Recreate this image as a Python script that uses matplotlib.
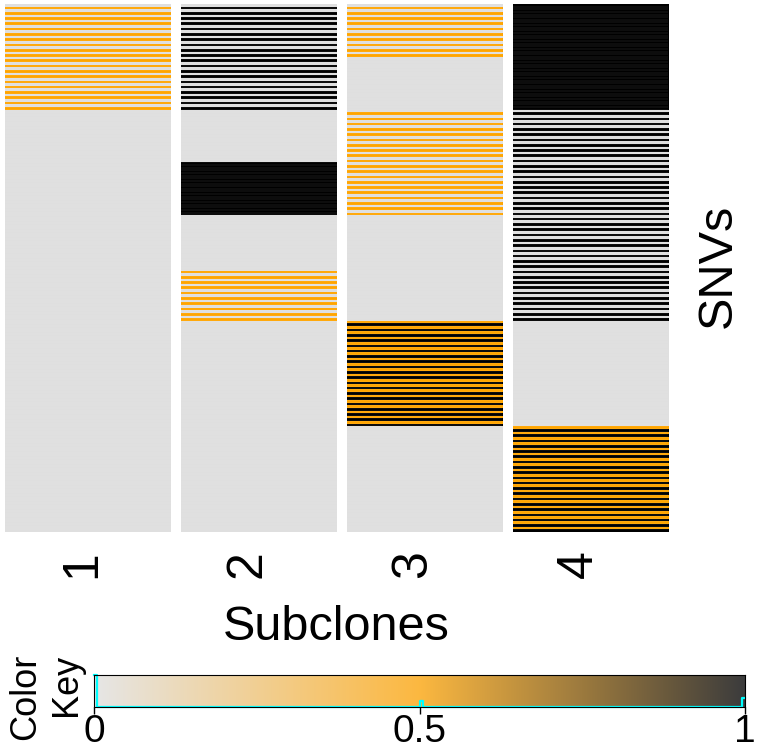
import numpy as np
import matplotlib
matplotlib.use('Agg')
import matplotlib.pyplot as plt
from matplotlib.colors import ListedColormap, LinearSegmentedColormap, BoundaryNorm

plt.rcParams['font.family'] = ['Liberation Sans', 'DejaVu Sans']

# ---------------- data ----------------
subclones = ['1', '2', '3', '4']
rows_per_block = 20
# (even-row value, odd-row value) for each block of 20 SNVs, top to bottom
clone1 = [(0, .5), (0, .5), (0, 0), (0, 0), (0, 0), (0, 0), (0, 0), (0, 0), (0, 0), (0, 0)]
clone2 = [(0, 1), (0, 1), (0, 0), (1, 1), (0, 0), (0, .5), (0, 0), (0, 0), (0, 0), (0, 0)]
clone3 = [(0, .5), (0, 0), (0, .5), (0, .5), (0, 0), (0, 0), (.5, 1), (.5, 1), (0, 0), (0, 0)]
clone4 = [(1, 1), (1, 1), (0, 1), (0, 1), (0, 1), (0, 1), (0, 0), (0, 0), (.5, 1), (.5, 1)]
key_ticks = [0, 0.5, 1]
key_ticklabels = ['0', '0.5', '1']

def expand(blocks):
    vals = []
    for a, b in blocks:
        for r in range(rows_per_block):
            vals.append(a if r % 2 == 0 else b)
    return vals

M = np.array([expand(c) for c in (clone1, clone2, clone3, clone4)]).T
nrow, ncol = M.shape

# ---------------- figure ----------------
W, H = 768, 749
fig = plt.figure(figsize=(W / 100, H / 100), dpi=100)

def fx(x):
    return x / W

def fy(y):
    return 1 - y / H

hm_left, hm_right, hm_top, hm_bot = 5, 668, 4, 532
ax = fig.add_axes([fx(hm_left), fy(hm_bot), fx(hm_right - hm_left), (hm_bot - hm_top) / H])
cmap = ListedColormap(['#DFDFDF', '#FFA500', '#000000'])
norm = BoundaryNorm([-0.25, 0.25, 0.75, 1.25], 3)
gap = 0.062
for i in range(ncol):
    x0 = i + (gap if i > 0 else 0)
    ax.imshow(M[:, i:i + 1], cmap=cmap, norm=norm, aspect='auto', interpolation='nearest',
              extent=(x0, i + 1, nrow, 0))
    # faint row boundaries
    ax.hlines(np.arange(1, nrow), x0, i + 1, color='white', alpha=0.22, lw=0.35)
ax.set_xlim(0, ncol)
ax.set_ylim(nrow, 0)
ax.axis('off')

# column labels
for i, lab in enumerate(subclones):
    xc = hm_left + (hm_right - hm_left) * (i + 0.5) / ncol - 6
    fig.text(fx(xc), fy(564), lab, rotation=90, ha='center', va='center', fontsize=36)

fig.text(fx(336), fy(628), 'Subclones', ha='center', va='center', fontsize=35)
fig.text(fx(718), fy(266), 'SNVs', rotation=90, ha='center', va='center', fontsize=35)

# ---------------- color key ----------------
k_left, k_right, k_top, k_bot = 94, 745, 675, 707
kax = fig.add_axes([fx(k_left), fy(k_bot), fx(k_right - k_left), (k_bot - k_top) / H])
key_cmap = LinearSegmentedColormap.from_list('key', ['#E6E6E6', '#FCB840', '#3C3C3C'])
kax.imshow(np.linspace(0, 1, 256)[None, :], cmap=key_cmap, aspect='auto',
           extent=(0, 1, 0, 1), interpolation='bilinear')
edges = np.linspace(0, 1, 201)
counts, _ = np.histogram(M.ravel(), bins=edges)
hy = counts / counts.max()
kax.step(edges, np.append(hy, hy[-1]), where='post', color='cyan', lw=1.6, clip_on=False)
kax.set_xlim(0, 1)
kax.set_ylim(0, 1)
kax.set_yticks([])
kax.set_xticks(key_ticks)
kax.set_xticklabels(key_ticklabels)
kax.tick_params(axis='x', direction='out', length=5, width=1, labelsize=28, pad=0)
for s in kax.spines.values():
    s.set_linewidth(0.8)

fig.text(fx(46), fy(697), 'Color\nKey', rotation=90, ha='center', va='center',
         fontsize=26, linespacing=1.2, multialignment='right')

fig.savefig('out.png', dpi=100)
